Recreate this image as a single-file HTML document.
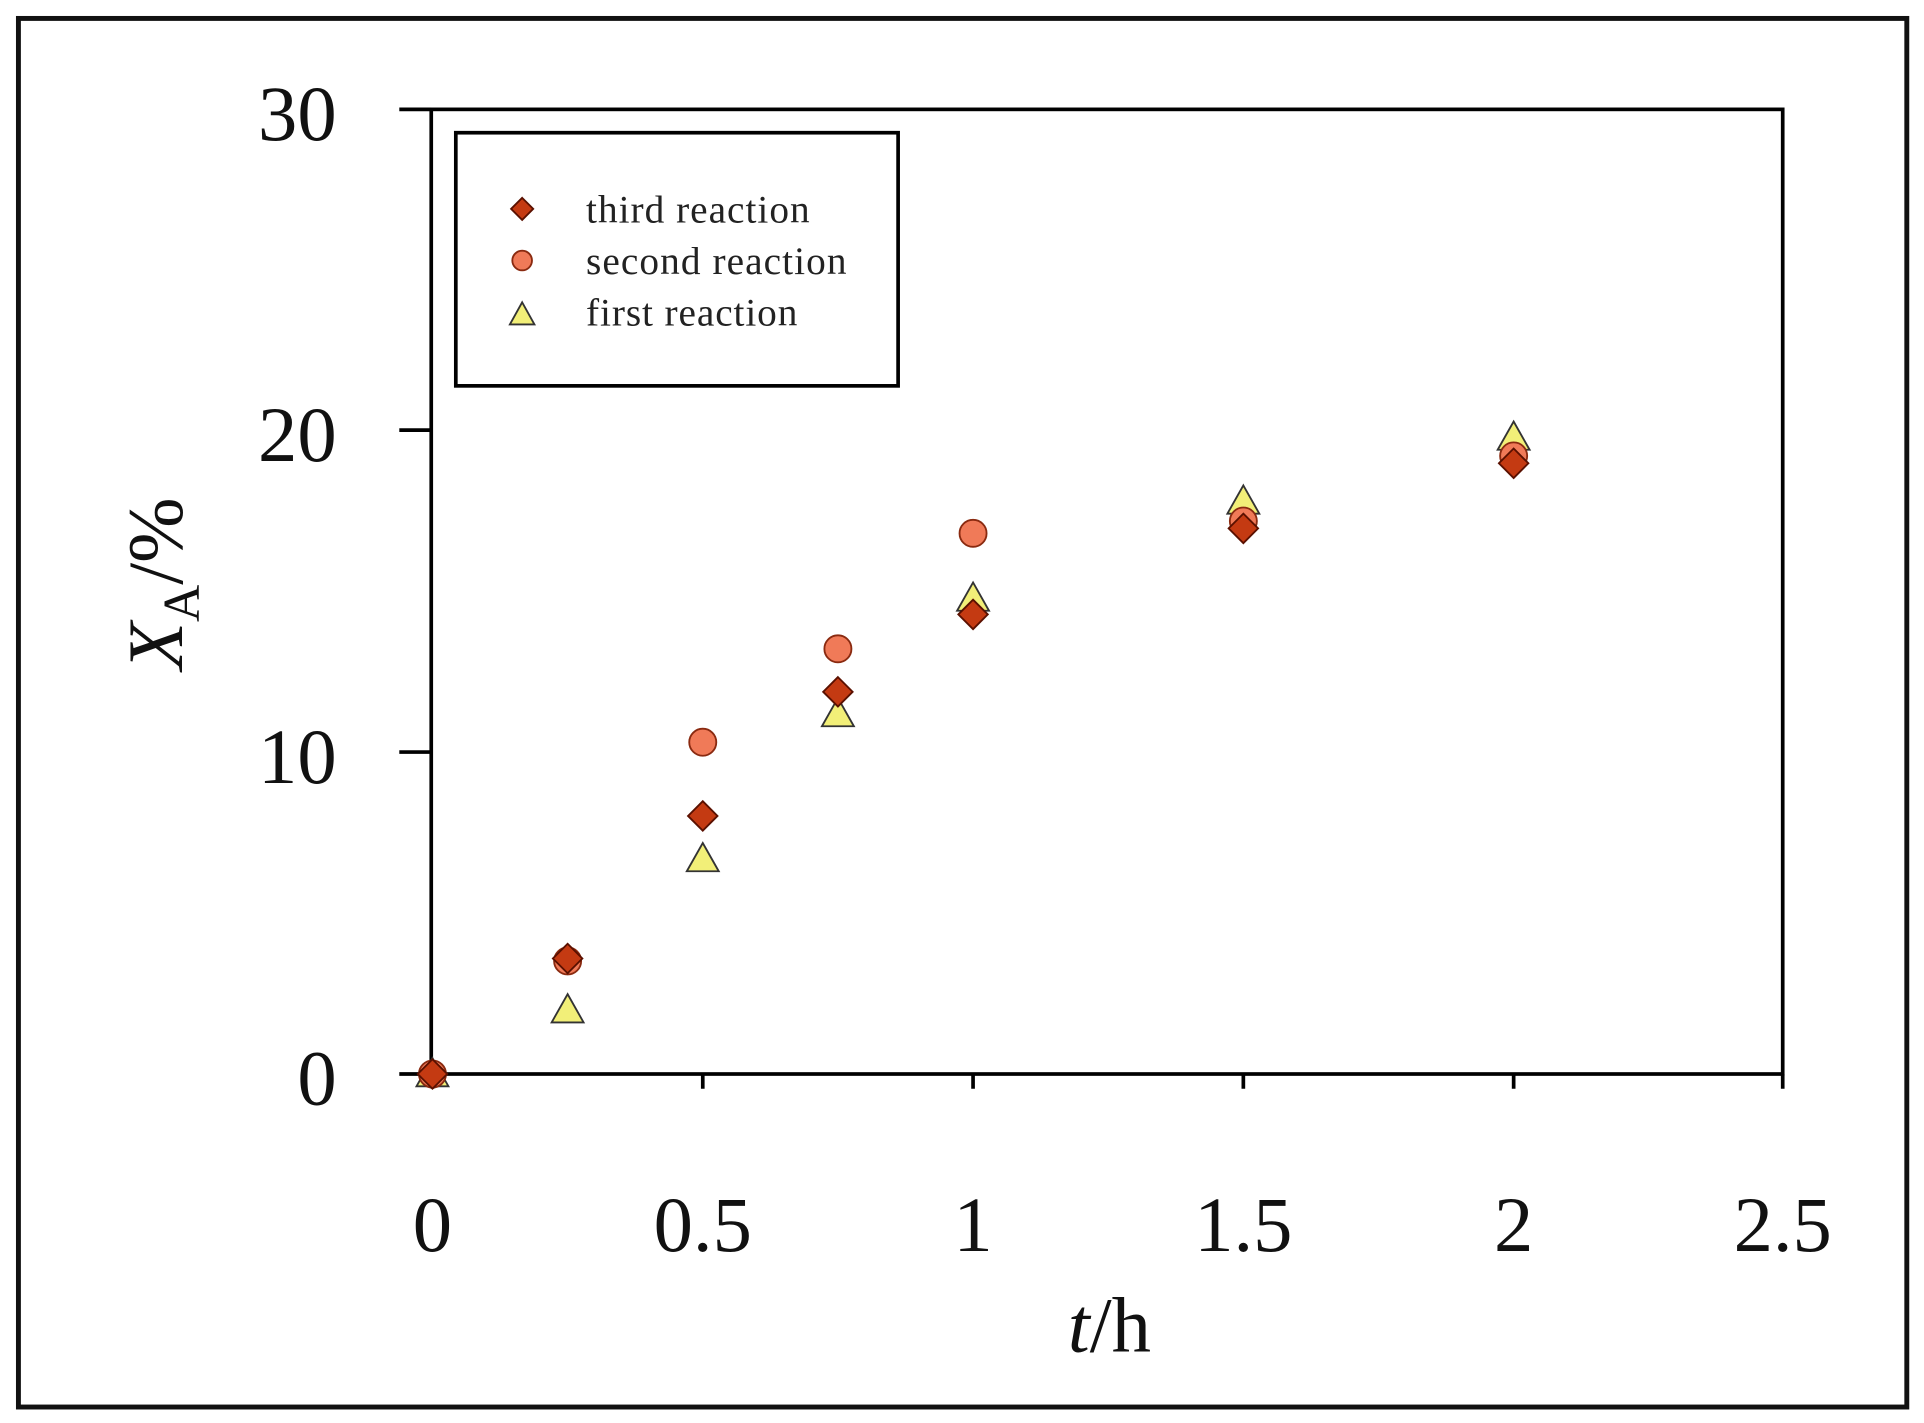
<!DOCTYPE html>
<html><head><style>html,body{margin:0;padding:0;background:#fff}svg{display:block}</style></head>
<body>
<svg width="1924" height="1423" viewBox="0 0 1566 1158" preserveAspectRatio="none" xmlns="http://www.w3.org/2000/svg" font-family="Liberation Serif, serif">
<rect x="15" y="15" width="1537" height="1130" fill="none" stroke="#111" stroke-width="4"/>
<rect x="351" y="89" width="1100" height="785" fill="none" stroke="#000" stroke-width="3"/>
<g stroke="#000" stroke-width="3">
<line x1="325" y1="89" x2="351" y2="89"/><line x1="325" y1="350" x2="351" y2="350"/>
<line x1="325" y1="612" x2="351" y2="612"/><line x1="325" y1="874" x2="351" y2="874"/>
<line x1="352" y1="874" x2="352" y2="886"/><line x1="572" y1="874" x2="572" y2="886"/>
<line x1="792" y1="874" x2="792" y2="886"/><line x1="1012" y1="874" x2="1012" y2="886"/>
<line x1="1232" y1="874" x2="1232" y2="886"/><line x1="1451" y1="874" x2="1451" y2="886"/>
</g>
<g font-size="64" text-anchor="end" fill="#111">
<text x="274" y="114">30</text><text x="274" y="375">20</text><text x="274" y="637">10</text><text x="274" y="899">0</text>
</g>
<g font-size="64" text-anchor="middle" fill="#111">
<text x="352" y="1018">0</text><text x="572" y="1018">0.5</text><text x="792" y="1018">1</text>
<text x="1012" y="1018">1.5</text><text x="1232" y="1018">2</text><text x="1451" y="1018">2.5</text>
<text x="903" y="1100"><tspan font-style="italic">t</tspan>/h</text>
</g>
<text transform="translate(148,475) rotate(-90)" font-size="64" text-anchor="middle" fill="#111"><tspan font-style="italic">X</tspan><tspan font-size="42" dy="14">A</tspan><tspan dy="-14">/%</tspan></text>
<rect x="371" y="108" width="360" height="206" fill="#fff" stroke="#000" stroke-width="3"/>
<g font-size="32" fill="#222">
<text x="477" y="181" textLength="182">third reaction</text><text x="477" y="223" textLength="212">second reaction</text><text x="477" y="265" textLength="172">first reaction</text>
</g>
<defs>
<path id="d" d="M0,-12 L12,0 L0,12 L-12,0Z" fill="#c43a12" stroke="#5a1000" stroke-width="1.5"/>
<circle id="c" r="11" fill="#f07a58" stroke="#8a2a10" stroke-width="1.5"/>
<path id="t" d="M0,-13 L13,10 L-13,10Z" fill="#f2ef78" stroke="#333" stroke-width="1.5"/>
<path id="ds" d="M0,-9 L9,0 L0,9 L-9,0Z" fill="#c43a12" stroke="#5a1000" stroke-width="1.5"/>
<circle id="cs" r="8" fill="#f07a58" stroke="#8a2a10" stroke-width="1.5"/>
<path id="ts" d="M0,-10 L10,8 L-10,8Z" fill="#f2ef78" stroke="#333" stroke-width="1.5"/>
</defs>
<use href="#ds" x="425" y="170"/><use href="#cs" x="425" y="212"/><use href="#ts" x="425" y="256"/>
<g>
<use href="#t" x="352" y="874"/><use href="#t" x="462" y="822"/><use href="#t" x="572" y="699"/>
<use href="#t" x="682" y="581"/><use href="#t" x="792" y="487"/><use href="#t" x="1012" y="408"/><use href="#t" x="1232" y="356"/>
<use href="#c" x="352" y="874"/><use href="#c" x="462" y="782"/><use href="#c" x="572" y="604"/>
<use href="#c" x="682" y="528"/><use href="#c" x="792" y="434"/><use href="#c" x="1012" y="424"/><use href="#c" x="1232" y="371"/>
<use href="#d" x="352" y="874"/><use href="#d" x="462" y="780"/><use href="#d" x="572" y="664"/>
<use href="#d" x="682" y="563"/><use href="#d" x="792" y="500"/><use href="#d" x="1012" y="430"/><use href="#d" x="1232" y="377"/>
</g>
</svg>
</body></html>
